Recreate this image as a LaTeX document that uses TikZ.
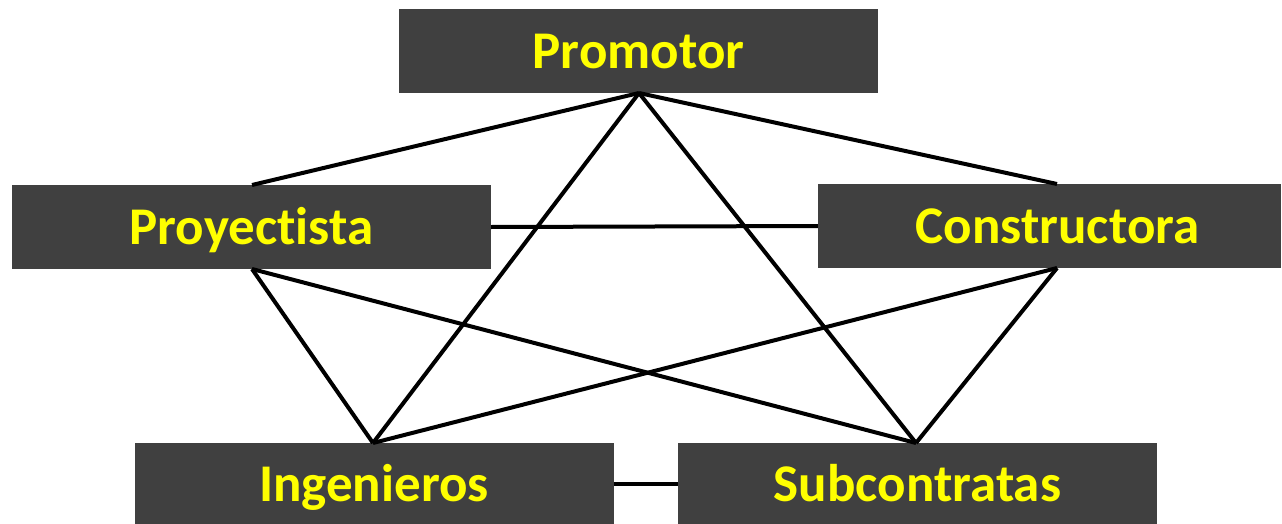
\documentclass[tikz,border=0pt]{standalone}
\usepackage{fontspec}
\setmainfont{Carlito}[Ligatures=NoCommon]
\definecolor{boxgray}{HTML}{404040}
\definecolor{labelyellow}{HTML}{FFFF00}
\begin{document}
\begin{tikzpicture}[x=1pt,y=-1pt,
  role/.style={fill=boxgray,draw=none,inner sep=0pt,
    minimum width=479pt,minimum height=84pt,
    text height=35pt,text depth=0pt,
    text=labelyellow,font=\fontsize{53}{58}\selectfont\bfseries},
  link/.style={line width=4pt,black}]
\useasboundingbox (0,0) rectangle (1282,524);
\node[role] (prom) at (638.5,51.5) {Promotor};
\node[role] (proy) at (251.5,227) {Proyectista};
\node[role,minimum width=463pt] (cons) at (1049.5,226) {\hspace*{16pt}Constructora};
\node[role,minimum height=82pt] (ing) at (374,484) {Ingenieros};
\node[role,minimum height=82pt] (sub) at (917.5,484) {Subcontratas};
\coordinate (promB) at (639,93);
\coordinate (proyT) at (252,185);
\coordinate (proyB) at (252,269);
\coordinate (consT) at (1057,184);
\coordinate (consB) at (1057,268);
\coordinate (ingT) at (373,443);
\coordinate (subT) at (916,443);
\draw[link] (promB) -- (proyT);
\draw[link] (promB) -- (consT);
\draw[link] (promB) -- (ingT);
\draw[link] (promB) -- (subT);
\draw[link] (proy.east) -- (cons.west);
\draw[link] (proyB) -- (ingT);
\draw[link] (proyB) -- (subT);
\draw[link] (consB) -- (ingT);
\draw[link] (consB) -- (subT);
\draw[link] (ing.east) -- (sub.west);
\end{tikzpicture}
\end{document}
